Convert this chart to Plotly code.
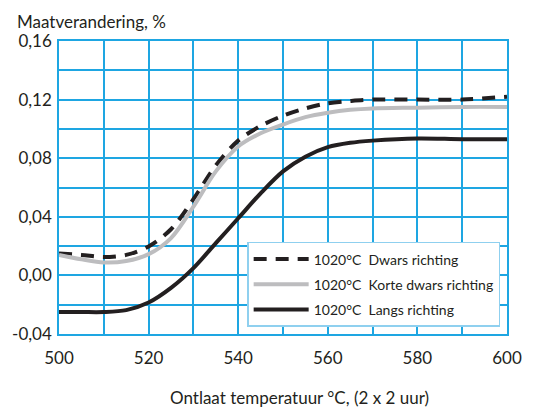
import plotly.graph_objects as go

temps = [500, 505, 510, 515, 520, 525, 530, 535, 540, 545, 550, 555, 560, 565, 570, 580, 590, 600]
dwars = [0.015, 0.014, 0.0125, 0.014, 0.0198, 0.0315, 0.052, 0.075, 0.092, 0.102, 0.109, 0.114, 0.1175, 0.119, 0.12, 0.12, 0.12, 0.122]
korte = [0.014, 0.011, 0.0088, 0.0098, 0.0145, 0.0255, 0.047, 0.071, 0.088, 0.097, 0.103, 0.108, 0.111, 0.113, 0.114, 0.1145, 0.115, 0.115]
langs = [-0.025, -0.025, -0.025, -0.0237, -0.0185, -0.0085, 0.005, 0.022, 0.039, 0.056, 0.071, 0.081, 0.0875, 0.0905, 0.092, 0.0935, 0.093, 0.093]

series_names = ["1020°C\u00a0\u00a0Dwars richting",
                "1020°C\u00a0\u00a0Korte dwars richting",
                "1020°C\u00a0\u00a0Langs richting"]

x_ticks = [500, 520, 540, 560, 580, 600]
y_ticks = [-0.04, 0.0, 0.04, 0.08, 0.12, 0.16]
y_ticktext = ["-0,04", "0,00", "0,04", "0,08", "0,12", "0,16"]

x_title = "Ontlaat temperatuur °C, (2 x 2 uur)"
y_title = "Maatverandering, %"

BLUE = "#1ea6e2"
FONT = "Lato"

fig = go.Figure()
fig.add_trace(go.Scatter(x=temps, y=dwars, name=series_names[0], mode="lines",
                         line=dict(color="#231f20", width=4, dash="13px,9px", shape="spline", smoothing=0.9),
                         legendgroup="a"))
fig.add_trace(go.Scatter(x=temps, y=korte, name=series_names[1], mode="lines",
                         line=dict(color="#bdbdbf", width=4, shape="spline", smoothing=0.9),
                         legendgroup="b"))
fig.add_trace(go.Scatter(x=temps, y=langs, name=series_names[2], mode="lines",
                         line=dict(color="#231f20", width=4, shape="spline", smoothing=0.9),
                         legendgroup="c"))

fig.update_layout(
    width=534, height=410,
    margin=dict(l=57, r=17, t=41, b=76),
    paper_bgcolor="white", plot_bgcolor="white",
    font=dict(family=FONT, color="#231f20", size=17),
    showlegend=True,
    legend=dict(x=0.42, y=0.314, xanchor="left", yanchor="top",
                bgcolor="white", bordercolor="#8fd0ef", borderwidth=1.5,
                font=dict(family=FONT, size=14, color="#231f20"),
                itemwidth=55, tracegroupgap=4, traceorder="grouped"),
    xaxis=dict(range=[500, 600], tickvals=x_ticks, showgrid=True, gridcolor=BLUE, gridwidth=1.5,
               minor=dict(dtick=10, showgrid=True, gridcolor=BLUE, gridwidth=1.5),
               showline=True, linecolor=BLUE, linewidth=1.5, mirror=True,
               zeroline=False, ticks="", ticklabelstandoff=8,
               tickfont=dict(size=17)),
    yaxis=dict(range=[-0.04, 0.16], tickvals=y_ticks, ticktext=y_ticktext, showgrid=True,
               gridcolor=BLUE, gridwidth=1.5,
               minor=dict(dtick=0.02, tick0=0, showgrid=True, gridcolor=BLUE, gridwidth=1.5),
               showline=True, linecolor=BLUE, linewidth=1.5, mirror=True,
               zeroline=False, ticks="", ticklabelstandoff=2,
               tickfont=dict(size=17)),
    annotations=[
        dict(text=y_title, x=12, y=22, showarrow=False,
             xanchor="left", yanchor="middle", font=dict(size=17)),
        dict(text=x_title, x=304, y=397, showarrow=False,
             xanchor="center", yanchor="middle", font=dict(size=17)),
    ],
)
# convert pixel positions for annotations to paper coords
pw = 534 - 57 - 17
ph = 410 - 41 - 76
new = []
for a in list(fig.layout.annotations):
    px, py = a.x, a.y
    new.append(a.update(x=(px - 57) / pw, y=(410 - 76 - py) / ph, xref="paper", yref="paper"))
fig.layout.annotations = new

fig.write_html("out.html")
